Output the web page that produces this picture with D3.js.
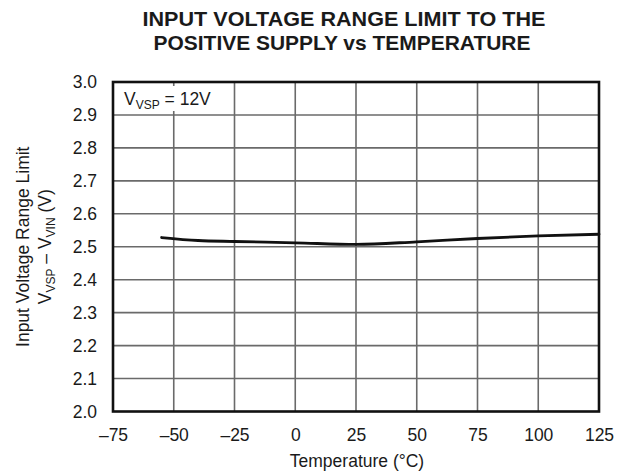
<!DOCTYPE html>
<html><head><meta charset="utf-8">
<script src="https://cdn.jsdelivr.net/npm/d3@7"></script>
<style>body{margin:0;background:#fff}svg{display:block}text{font-family:"Liberation Sans",Arial,sans-serif;fill:#1a1a1a}</style>
</head><body>
<svg id="c" width="621" height="476"></svg>
<script>
const temperatures = [-55, -40, -25, 0, 25, 50, 75, 100, 125];
const limitValues = [2.528, 2.519, 2.516, 2.512, 2.507, 2.515, 2.525, 2.533, 2.538];
const xTicks = [-75, -50, -25, 0, 25, 50, 75, 100, 125];
const yTicks = [2.0, 2.1, 2.2, 2.3, 2.4, 2.5, 2.6, 2.7, 2.8, 2.9, 3.0];

const svg = d3.select("#c");
const L = 113, R = 599, T = 82, B = 411.5;
const FS = 17.5, SUB = 12;
const x = d3.scaleLinear().domain([-75, 125]).range([L, R]);
const y = d3.scaleLinear().domain([2.0, 3.0]).range([B, T]);

// grid
svg.append("g").selectAll("line").data(xTicks.slice(1, -1)).join("line")
  .attr("x1", d => x(d)).attr("x2", d => x(d)).attr("y1", T).attr("y2", B)
  .attr("stroke", "#6a6a6a").attr("stroke-width", 1.6);
svg.append("g").selectAll("line").data(yTicks.slice(1, -1)).join("line")
  .attr("y1", d => y(d)).attr("y2", d => y(d)).attr("x1", L).attr("x2", R)
  .attr("stroke", "#6a6a6a").attr("stroke-width", 1.6);

// legend box background
svg.append("rect").attr("x", L + 3).attr("y", T + 4).attr("width", 106).attr("height", 25).attr("fill", "#fff");
const lg = svg.append("text").attr("x", 124).attr("y", 105).attr("font-size", FS);
lg.append("tspan").text("V");
lg.append("tspan").attr("font-size", SUB).attr("dy", 4).text("VSP");
lg.append("tspan").attr("dy", -4).text(" = 12V");

// axes (labels only)
const styleTicks = g => g.selectAll("text").attr("font-size", FS).attr("fill", "#1a1a1a")
  .attr("font-family", "Liberation Sans, Arial, sans-serif");
const xAxis = d3.axisBottom(x).tickValues(xTicks).tickSize(0).tickPadding(17)
  .tickFormat(d => d < 0 ? "\u2013" + Math.abs(d) : d);
svg.append("g").attr("transform", `translate(0,${B})`).call(xAxis)
  .call(g => g.select(".domain").remove()).call(styleTicks);
const yAxis = d3.axisLeft(y).tickValues(yTicks).tickSize(0).tickPadding(16).tickFormat(d3.format(".1f"));
svg.append("g").attr("transform", `translate(${L},0)`).call(yAxis)
  .call(g => g.select(".domain").remove()).call(styleTicks);

// line
const line = d3.line().x((d, i) => x(temperatures[i])).y(d => y(d)).curve(d3.curveMonotoneX);
svg.append("path").datum(limitValues).attr("d", line).attr("fill", "none")
  .attr("stroke", "#111").attr("stroke-width", 2.8).attr("stroke-linecap", "round");

// border
svg.append("rect").attr("x", L).attr("y", T).attr("width", R - L).attr("height", B - T)
  .attr("fill", "none").attr("stroke", "#111").attr("stroke-width", 2.6);

// title
svg.append("text").attr("x", 344).attr("y", 26).attr("text-anchor", "middle")
  .attr("font-size", 20.5).attr("font-weight", "bold")
  .attr("textLength", 403).attr("lengthAdjust", "spacingAndGlyphs").text("INPUT VOLTAGE RANGE LIMIT TO THE");
svg.append("text").attr("x", 342).attr("y", 50).attr("text-anchor", "middle")
  .attr("font-size", 20.5).attr("font-weight", "bold")
  .attr("textLength", 377).attr("lengthAdjust", "spacingAndGlyphs").text("POSITIVE SUPPLY vs TEMPERATURE");

// x title
svg.append("text").attr("x", 357).attr("y", 467).attr("text-anchor", "middle").attr("font-size", FS).text("Temperature (\u00B0C)");

// y title
const cy = (T + B) / 2;
svg.append("text").attr("transform", `translate(29,${cy}) rotate(-90)`).attr("text-anchor", "middle")
  .attr("font-size", FS).text("Input Voltage Range Limit");
const yt = svg.append("text").attr("transform", `translate(51,${cy}) rotate(-90)`).attr("text-anchor", "middle")
  .attr("font-size", FS);
yt.append("tspan").text("V");
yt.append("tspan").attr("font-size", SUB).attr("dy", 4).text("VSP");
yt.append("tspan").attr("dy", -4).text(" \u2013 V");
yt.append("tspan").attr("font-size", SUB).attr("dy", 4).text("VIN");
yt.append("tspan").attr("dy", -4).text(" (V)");
</script>
</body></html>
